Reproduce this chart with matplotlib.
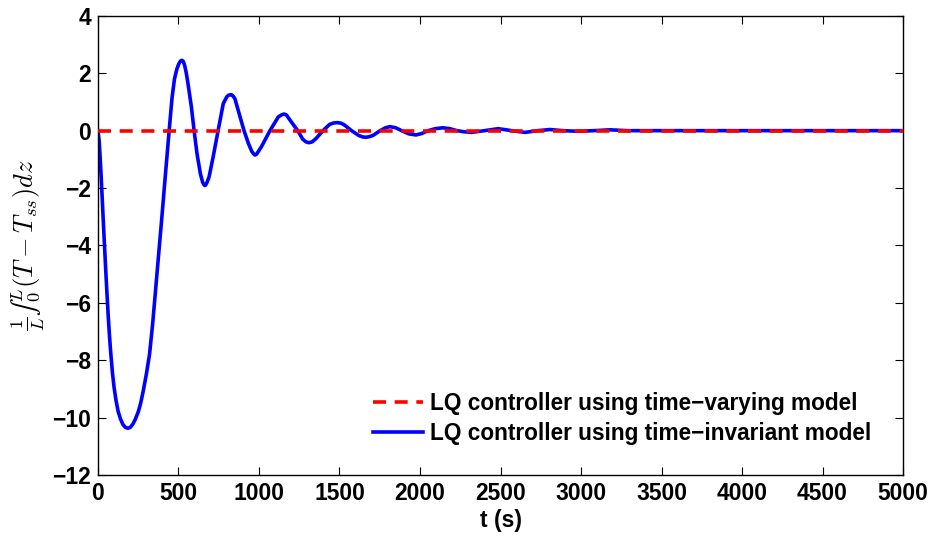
import numpy as np
import matplotlib
matplotlib.use("Agg")
import matplotlib.pyplot as plt

plt.rcParams['font.family'] = ['Liberation Sans', 'DejaVu Sans']
plt.rcParams['mathtext.fontset'] = 'cm'

########### data ###########

# time-invariant model response (blue)
t_inv = [0, 8, 16, 24, 32, 40, 48, 56, 64, 72, 80, 90, 100, 112, 125,
         140, 155, 170, 186, 200, 215, 230, 250, 265, 280, 300, 320,
         340, 360, 380, 400, 420, 442, 460, 475, 490, 500, 508, 515,
         522, 530, 538, 548, 559, 580, 597, 615, 636, 650, 658, 663,
         668, 676, 690, 715, 746, 778, 800, 809, 820, 830, 840, 850,
         882, 907, 934, 955, 967, 975, 985, 1015, 1068, 1120, 1140,
         1155, 1170, 1200, 1241, 1272, 1292, 1310, 1330, 1355, 1397,
         1439, 1465, 1487, 1510, 1530, 1575, 1620, 1645, 1665, 1685,
         1710, 1752, 1785, 1814, 1850, 1886, 1930, 1975, 2010, 2050,
         2095, 2141, 2185, 2230, 2275, 2320, 2400, 2486, 2570, 2652,
         2730, 2807, 2890, 2973, 3080, 3180, 3290, 3400, 4000, 4500, 5000]
v_inv = [0, -0.4, -1.2, -2.1, -3.05, -3.95, -4.85, -5.7, -6.5, -7.2, -7.8, -8.45, -8.95, -9.4, -9.78,
         -10.05, -10.24, -10.34, -10.37, -10.34, -10.24, -10.08, -9.8, -9.5, -9.1, -8.5, -7.8,
         -6.7, -5.4, -4.1, -2.8, -1.45, 0, 1.15, 1.8, 2.15, 2.3, 2.39, 2.44,
         2.45, 2.41, 2.28, 2.02, 1.64, 0.83, 0, -0.8, -1.5, -1.8, -1.88, -1.91,
         -1.9, -1.82, -1.61, -0.92, 0, 0.94, 1.18, 1.23, 1.25, 1.25, 1.2, 1.12,
         0.49, 0, -0.44, -0.72, -0.81, -0.85, -0.82, -0.56, 0, 0.48, 0.55,
         0.58, 0.55, 0.31, 0, -0.3, -0.39, -0.42, -0.39, -0.27, 0,
         0.22, 0.27, 0.28, 0.26, 0.2, 0, -0.17, -0.22, -0.23, -0.21,
         -0.16, 0, 0.1, 0.14, 0.1, 0, -0.11, -0.15, -0.1, 0,
         0.07, 0.1, 0.07, 0, -0.04, -0.06, 0, 0.07, 0, -0.06,
         0, 0.04, 0, -0.02, 0, 0.03, 0, 0, 0, 0, 0]

# time-varying model response (red) stays at zero
t_var = [0, 5000]
v_var = [0, 0]

x_ticks = [0, 500, 1000, 1500, 2000, 2500, 3000, 3500, 4000, 4500, 5000]
y_ticks = [4, 2, 0, -2, -4, -6, -8, -10, -12]

labels = ['LQ controller using time\u2212varying model',
          'LQ controller using time\u2212invariant model']

#################################################

fig = plt.figure(figsize=(9.35, 5.44), dpi=100)
ax = fig.add_axes([0.1048, 0.1268, 0.861, 0.844])

ax.plot(t_var, v_var, color='red', lw=2.6, dashes=(3.6, 2.4), label=labels[0], zorder=3)
ax.plot(t_inv, v_inv, color='blue', lw=2.6, label=labels[1], zorder=2)

ax.set_xlim(0, 5000)
ax.set_ylim(-12, 4)
ax.set_xticks(x_ticks)
ax.set_yticks(y_ticks)
ax.set_xticklabels([str(v) for v in x_ticks], fontweight='bold', fontsize=16.5)
ax.set_yticklabels([str(v).replace('-', '\u2212') for v in y_ticks], fontweight='bold', fontsize=16.5)
ax.tick_params(direction='in', length=6, width=0.8, top=True, right=True, pad=5)
for s in ax.spines.values():
    s.set_linewidth(1.0)

ax.set_xlabel('t (s)', fontweight='bold', fontsize=16.5, labelpad=3)
# unicode integral sign gives the small (text size) glyph
ax.set_ylabel('$\\frac{1}{L}\u222b_0^L(T-T_{ss})dz$', fontsize=19, labelpad=4)

leg = ax.legend(loc='upper left', frameon=False,
                prop={'weight': 'bold', 'size': 16.3},
                handlelength=2.2, handletextpad=0.3, labelspacing=0.3,
                borderpad=0, borderaxespad=0,
                bbox_to_anchor=(0.3416, 0.181))

fig.savefig('out.png', dpi=100)
